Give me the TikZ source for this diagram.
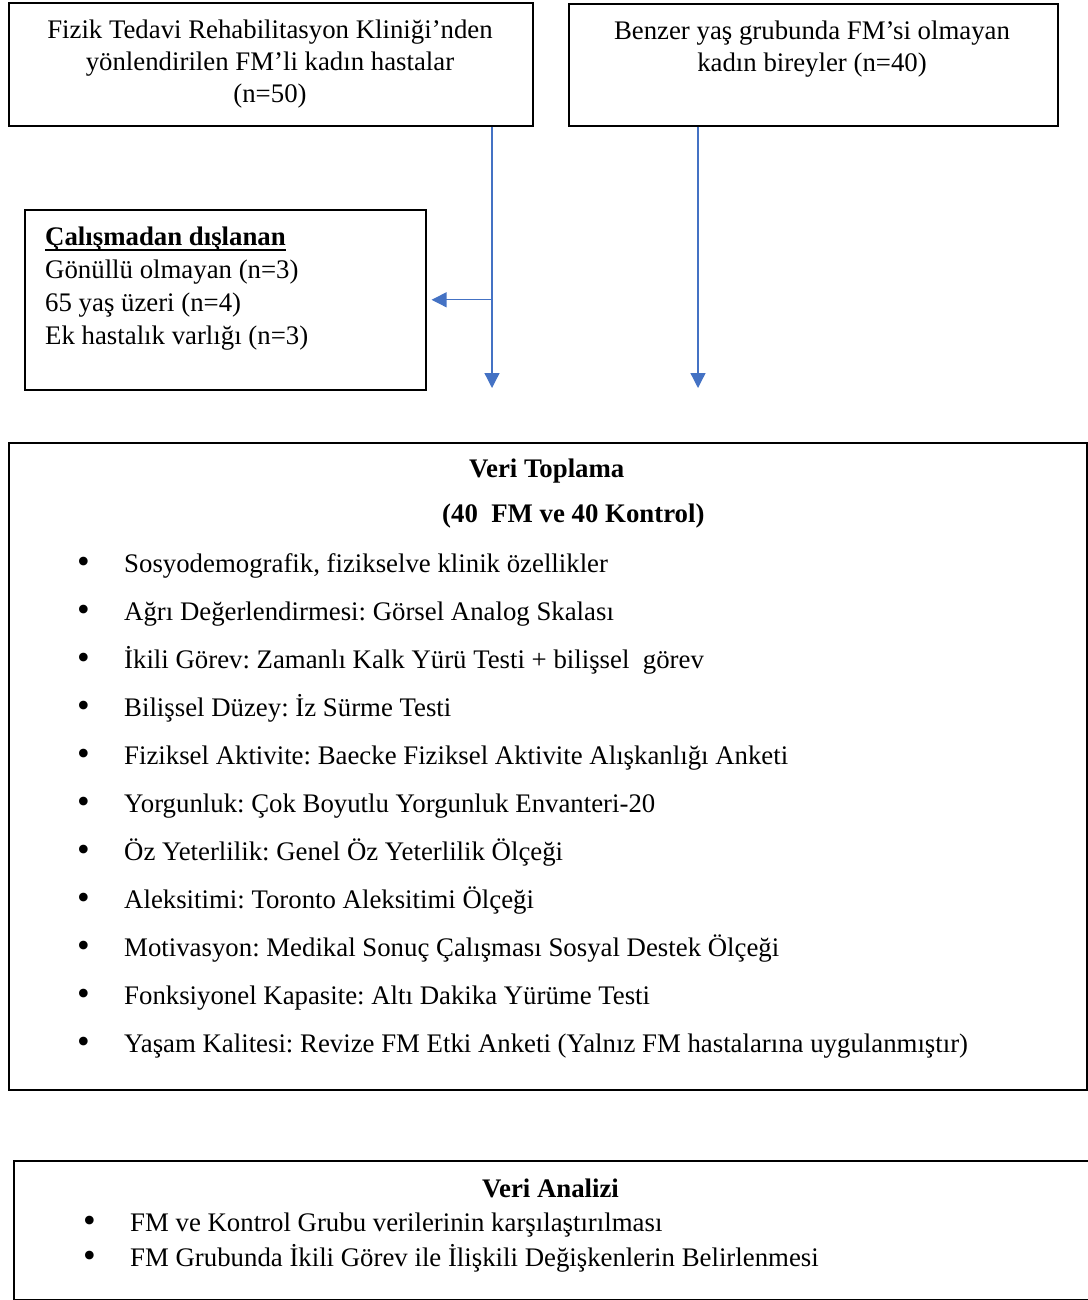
\documentclass[tikz,border=0pt]{standalone}
\usepackage{fontspec}
\setmainfont{Liberation Serif}
\usetikzlibrary{arrows.meta}
\frenchspacing
\definecolor{arrowblue}{HTML}{4472C4}
\newcommand{\bulletmark}{\makebox[47pt][l]{\raisebox{-1pt}{\scalebox{1.35}{\textbullet}}}}
\newcommand{\thickul}[1]{\setbox0\hbox{#1}\rlap{\rule[-6pt]{\wd0}{1.8pt}}\box0}
\tikzset{
  box/.style={draw, line width=1.6pt, inner sep=0pt, anchor=north west},
  line/.style={anchor=base west, inner sep=0pt},
  mid/.style={anchor=base, inner sep=0pt},
  flow/.style={draw=arrowblue, line width=1.3pt, -{Triangle[length=15pt,width=15pt]}},
}
\begin{document}
\begin{tikzpicture}[x=1pt,y=-1pt,font=\fontsize{26.8}{30}\selectfont]
\useasboundingbox (0,0) rectangle (1087,1300);
\pgfmathsetmacro{\bx}{77}
\pgfmathsetmacro{\by}{572}
\pgfmathsetmacro{\dy}{48}
% boxes
\node[box,minimum width=524,minimum height=123] (fmgrp) at (8,2) {};
\node[box,minimum width=489,minimum height=122] (ctlgrp) at (568,3) {};
\node[box,minimum width=401,minimum height=180] (excl) at (24,209) {};
\node[box,minimum width=1078,minimum height=647] (collect) at (8,442) {};
\node[box,minimum width=1076,minimum height=139] (analysis) at (13,1160) {};
% top boxes text
\node[mid] (fm1) at (270,39) {Fizik Tedavi Rehabilitasyon Kliniği’nden};
\node[mid] (fm2) at (270,71) {yönlendirilen FM’li kadın hastalar};
\node[mid] (fm3) at (270,103) {(n=50)};
\node[mid] (ctl1) at (812,40) {Benzer yaş grubunda FM’si olmayan};
\node[mid] (ctl2) at (812,72) {kadın bireyler (n=40)};
% excluded
\node[line] (ex0) at (45,245) {\thickul{\textbf{Çalışmadan dışlanan}}};
\node[line] (ex1) at (45,278) {Gönüllü olmayan (n=3)};
\node[line] (ex2) at (45,311) {65 yaş üzeri (n=4)};
\node[line] (ex3) at (45,344) {Ek hastalık varlığı (n=3)};
% arrows
\coordinate (fmend) at (492,388);
\coordinate (ctlend) at (698,388);
\draw[flow] (fmgrp.south -| fmend) -- (fmend);
\draw[flow,shorten >=5pt] (excl.east -| fmend) -- (excl.east);
\draw[flow] (ctlgrp.south -| ctlend) -- (ctlend);
% data collection
\node[line] (vt1) at (469,477) {\textbf{Veri Toplama}};
\node[line] (vt2) at (442,522) {\textbf{(40~ FM ve 40 Kontrol)}};
\node[line] (i1) at (\bx,\by) {\bulletmark Sosyodemografik, fizikselve klinik özellikler};
\node[line] (i2) at (\bx,\by+\dy) {\bulletmark Ağrı Değerlendirmesi: Görsel Analog Skalası};
\node[line] (i3) at (\bx,\by+\dy*2) {\bulletmark İkili Görev: Zamanlı Kalk Yürü Testi + bilişsel~ görev};
\node[line] (i4) at (\bx,\by+\dy*3) {\bulletmark Bilişsel Düzey: İz Sürme Testi};
\node[line] (i5) at (\bx,\by+\dy*4) {\bulletmark Fiziksel Aktivite: Baecke Fiziksel Aktivite Alışkanlığı Anketi};
\node[line] (i6) at (\bx,\by+\dy*5) {\bulletmark Yorgunluk: Çok Boyutlu Yorgunluk Envanteri-20};
\node[line] (i7) at (\bx,\by+\dy*6) {\bulletmark Öz Yeterlilik: Genel Öz Yeterlilik Ölçeği};
\node[line] (i8) at (\bx,\by+\dy*7) {\bulletmark Aleksitimi: Toronto Aleksitimi Ölçeği};
\node[line] (i9) at (\bx,\by+\dy*8) {\bulletmark Motivasyon: Medikal Sonuç Çalışması Sosyal Destek Ölçeği};
\node[line] (i10) at (\bx,\by+\dy*9) {\bulletmark Fonksiyonel Kapasite: Altı Dakika Yürüme Testi};
\node[line] (i11) at (\bx,\by+\dy*10) {\bulletmark Yaşam Kalitesi: Revize FM Etki Anketi (Yalnız FM hastalarına uygulanmıştır)};
% data analysis
\node[line] (va0) at (482,1197) {\textbf{Veri Analizi}};
\node[line] (va1) at (83,1231) {\bulletmark FM ve Kontrol Grubu verilerinin karşılaştırılması};
\node[line] (va2) at (83,1266) {\bulletmark FM Grubunda İkili Görev ile İlişkili Değişkenlerin Belirlenmesi};
\end{tikzpicture}
\end{document}
